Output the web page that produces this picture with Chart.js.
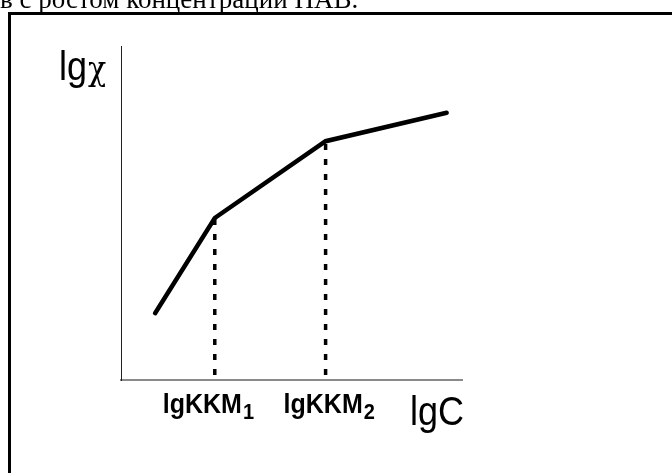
<!DOCTYPE html>
<html>
<head>
<meta charset="utf-8">
<script src="https://cdn.jsdelivr.net/npm/chart.js@4.4.0/dist/chart.umd.min.js"></script>
<style>
  html, body { margin: 0; padding: 0; background: #fff; }
  #wrap { position: relative; width: 672px; height: 473px; overflow: hidden; }
</style>
</head>
<body>
<div id="wrap"><canvas id="myChart" width="672" height="473"></canvas></div>
<script>
// lgC (x) and lg chi (y) of the curve, arbitrary units
var lgC = [1.0, 2.75, 6.0, 9.55];
var lgChi = [2.0, 4.85, 7.15, 8.0];

// critical micelle concentrations (the two knees)
var cmcX = [2.75, 6.0];
var cmcY = [4.85, 7.15];
var cmcLabels = ["lgKKM", "lgKKM"];
var cmcSubs = ["1", "2"];

var caption = "в с ростом концентрации ПАВ.";
var xTitle = "lgC";
var yTitle = ["lg", "χ"];

var curve = lgC.map(function (x, i) { return { x: x, y: lgChi[i] }; });

var datasets = [{
    data: curve,
    borderColor: "#000",
    borderWidth: 4.5,
    borderCapStyle: "round",
    borderJoinStyle: "miter",
    pointRadius: 0,
    tension: 0
}];
cmcX.forEach(function (x, i) {
    datasets.push({
        data: [{ x: x, y: 0.15 }, { x: x, y: cmcY[i] }],
        borderColor: "#000",
        borderWidth: 3.5,
        borderDash: [6, 9],
        borderCapStyle: "butt",
        pointRadius: 0
    });
});

// stretched text, like the scanned figure
function stretchText(ctx, text, x, y, font) {
    ctx.save();
    ctx.font = font;
    ctx.translate(x, y);
    ctx.scale(1, 1.14);
    ctx.fillText(text, 0, 0);
    var w = ctx.measureText(text).width;
    ctx.restore();
    return w;
}

var decor = {
    id: "decor",
    beforeDraw: function (chart) {
        var ctx = chart.ctx;
        ctx.save();
        ctx.fillStyle = "#fff";
        ctx.fillRect(0, 0, chart.width, chart.height);
        // frame
        ctx.fillStyle = "#000";
        ctx.fillRect(8, 12, 3, chart.height);
        ctx.fillRect(8, 12, chart.width, 3);
        // caption (cut at the top)
        ctx.font = "27px 'Liberation Serif', 'Times New Roman', serif";
        ctx.textBaseline = "alphabetic";
        ctx.fillText(caption, 0, 8);
        ctx.restore();
    },
    afterDraw: function (chart) {
        var ctx = chart.ctx;
        var xs = chart.scales.x;
        ctx.save();
        ctx.fillStyle = "#000";
        ctx.textBaseline = "alphabetic";
        var offs = [-52, -42];
        cmcX.forEach(function (v, i) {
            var px = xs.getPixelForValue(v) + offs[i];
            var w = stretchText(ctx, cmcLabels[i], px, 413, "bold 25px 'Liberation Sans', Arial, sans-serif");
            stretchText(ctx, cmcSubs[i], px + w + 1, 419, "bold 20px 'Liberation Sans', Arial, sans-serif");
        });
        stretchText(ctx, xTitle, 410, 425, "36px 'Liberation Sans', Arial, sans-serif");
        var w = stretchText(ctx, yTitle[0], 59, 80, "36px 'Liberation Sans', Arial, sans-serif");
        stretchText(ctx, yTitle[1], 59 + w + 1, 80, "30px 'DejaVu Serif', serif");
        ctx.restore();
    }
};

var chart = new Chart(document.getElementById("myChart"), {
    type: "line",
    data: { datasets: datasets },
    plugins: [decor],
    options: {
        responsive: false,
        animation: false,
        layout: { padding: { left: 121, top: 46, right: 210, bottom: 93 } },
        plugins: { legend: { display: false }, tooltip: { enabled: false } },
        scales: {
            x: {
                type: "linear",
                min: 0,
                max: 10,
                ticks: { display: false },
                grid: { display: false, drawTicks: false },
                border: { display: true, color: "#8a8a8a", width: 2 }
            },
            y: {
                type: "linear",
                min: 0,
                max: 10,
                ticks: { display: false },
                grid: { display: false, drawTicks: false },
                border: { display: true, color: "#222", width: 1 }
            }
        }
    }
});
</script>
</body>
</html>
